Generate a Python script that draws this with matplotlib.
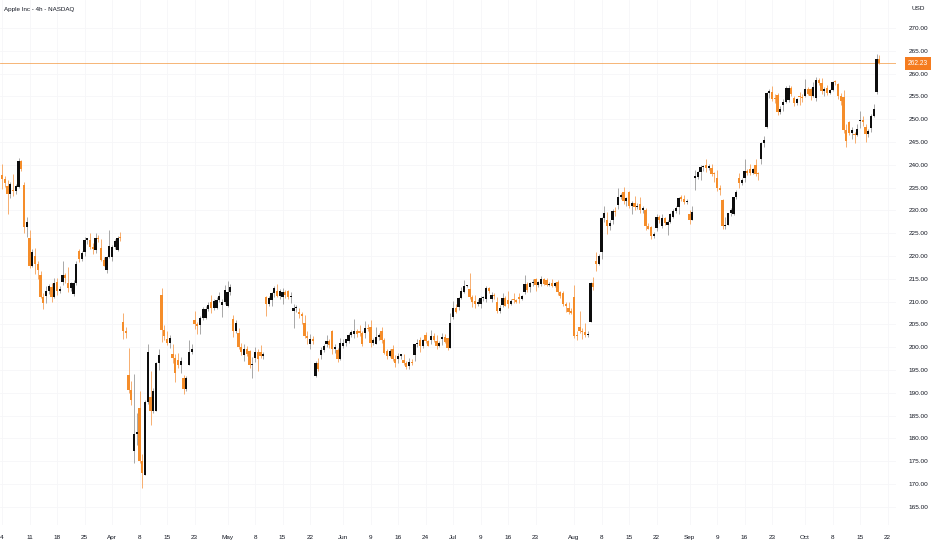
import numpy as np
import pandas as pd
import matplotlib
matplotlib.use("Agg")
import matplotlib.pyplot as plt
import matplotlib.transforms as mtransforms

# trading sessions shown on the chart (weekends and US market holidays left out)
holidays = ["2025-04-18", "2025-05-26", "2025-06-19", "2025-07-04", "2025-09-01"]
days = pd.bdate_range("2025-03-04", "2025-10-20")
days = days[~days.isin(pd.to_datetime(holidays))]

# 4h bars, two per session: (open, high, low, close)
mar_bars = [
    (237.7, 240.1, 234.7, 236.8), (236.8, 237.6, 235.2, 235.9),
    (235.4, 236.6, 229.2, 233.5), (233.5, 236.2, 232.8, 235.7),
    (234.4, 237.9, 233.2, 234.2), (234.2, 235.8, 233.5, 235.3),
    (235.1, 241.4, 234.8, 240.8), (240.8, 241.0, 238.6, 239.1),
    (235.5, 236.2, 225.0, 226.3), (226.3, 228.5, 224.2, 227.5),
    (224.0, 225.8, 217.4, 217.8), (217.8, 221.5, 217.5, 220.8),
    (220.1, 221.8, 216.0, 218.2), (218.2, 219.0, 214.9, 217.0),
    (215.9, 216.8, 210.8, 211.0), (211.0, 211.8, 208.4, 209.7),
    (211.3, 213.5, 209.6, 212.3), (212.3, 213.9, 211.6, 213.5),
    (213.3, 214.0, 210.0, 211.0), (211.0, 215.2, 210.8, 214.0),
    (214.2, 215.2, 211.5, 212.4), (212.4, 213.4, 211.9, 212.7),
    (214.2, 218.8, 213.7, 215.8), (215.8, 216.2, 214.0, 215.2),
    (214.0, 217.5, 212.2, 213.0), (213.0, 214.3, 212.4, 214.1),
    (211.6, 214.8, 211.3, 214.0), (214.0, 218.8, 213.6, 218.3),
    (221.0, 221.5, 218.6, 219.3), (219.3, 221.0, 219.0, 220.7),
    (220.8, 224.1, 220.1, 223.6), (223.6, 224.0, 222.6, 223.8),
    (223.5, 225.0, 221.5, 222.0), (222.0, 222.8, 220.5, 221.5),
    (221.4, 225.0, 220.6, 224.0), (224.0, 224.5, 223.0, 223.8),
    (221.7, 223.8, 218.8, 219.2), (219.2, 219.8, 217.7, 217.9),
    (217.0, 220.0, 216.2, 219.8), (219.8, 225.6, 219.5, 222.1),
]
apr_bars = [
    (219.8, 222.3, 218.8, 222.0), (222.0, 223.7, 221.5, 223.2),
    (221.3, 224.3, 221.0, 224.0), (224.0, 225.2, 223.2, 223.9),
    (205.5, 207.5, 201.7, 203.6), (203.6, 204.5, 202.0, 203.2),
    (193.9, 199.9, 190.0, 190.7), (190.7, 192.5, 187.3, 188.4),
    (177.2, 194.2, 174.6, 181.0), (181.0, 185.5, 178.5, 181.5),
    (186.7, 190.3, 174.5, 175.0), (175.0, 176.5, 169.2, 172.4),
    (172.0, 188.5, 171.9, 188.0), (188.0, 200.6, 187.5, 198.9),
    (189.1, 194.8, 183.0, 186.0), (186.0, 191.0, 185.5, 190.4),
    (186.1, 196.8, 186.1, 196.5), (196.5, 199.5, 195.0, 198.2),
    (211.4, 212.9, 201.2, 203.8), (203.8, 204.8, 201.5, 202.5),
    (201.9, 203.5, 200.5, 201.0), (201.0, 202.6, 199.8, 202.1),
    (198.4, 200.7, 196.5, 197.6), (197.6, 198.5, 192.4, 194.3),
    (197.2, 198.8, 195.5, 196.0), (196.0, 197.8, 194.4, 197.0),
    (193.3, 193.8, 189.8, 190.8), (190.8, 193.6, 190.3, 193.2),
    (196.1, 201.6, 196.0, 199.0), (199.0, 200.8, 198.5, 199.7),
    (206.0, 208.0, 204.0, 205.0), (205.0, 205.6, 202.8, 204.6),
    (204.9, 206.8, 202.9, 206.5), (206.5, 208.8, 206.0, 208.4),
    (206.4, 209.0, 206.2, 208.3), (208.3, 209.8, 207.9, 209.3),
    (210.0, 211.5, 207.5, 208.6), (208.6, 210.6, 208.2, 210.1),
    (208.7, 211.0, 208.4, 210.3), (210.3, 212.2, 209.8, 211.2),
    (209.3, 210.5, 206.7, 209.8), (209.8, 213.6, 209.5, 212.5),
]
may_bars = [
    (209.1, 214.6, 208.9, 212.0), (212.0, 213.8, 211.5, 213.3),
    (206.1, 207.0, 202.2, 203.5), (203.5, 206.0, 203.0, 205.4),
    (203.1, 204.1, 199.5, 200.0), (200.0, 201.0, 198.2, 198.9),
    (198.2, 200.7, 197.0, 199.6), (199.6, 200.2, 198.0, 198.5),
    (199.2, 199.4, 195.5, 196.0), (196.0, 197.8, 193.3, 196.3),
    (197.7, 200.1, 196.8, 199.0), (199.0, 199.5, 194.7, 197.5),
    (199.0, 200.5, 197.6, 198.0), (198.0, 199.0, 197.5, 198.5),
    (211.0, 211.3, 206.8, 209.5), (209.5, 211.2, 209.0, 210.8),
    (210.4, 212.0, 209.0, 211.8), (211.8, 213.4, 211.0, 212.9),
    (212.4, 213.9, 211.0, 211.3), (211.3, 212.8, 210.6, 212.3),
    (211.0, 213.0, 209.5, 212.0), (212.0, 212.5, 210.8, 211.5),
    (212.4, 212.6, 210.5, 211.0), (211.0, 212.0, 209.7, 211.3),
    (207.9, 209.5, 204.3, 208.6), (208.6, 209.2, 207.8, 208.8),
    (207.7, 208.5, 206.5, 207.2), (207.2, 207.8, 205.0, 206.9),
    (205.2, 207.0, 202.0, 202.5), (202.5, 203.5, 200.7, 202.1),
    (200.7, 202.8, 199.7, 201.8), (201.8, 202.5, 200.8, 201.4),
    (193.7, 197.0, 193.5, 196.6), (196.6, 197.7, 194.8, 195.3),
    (198.3, 200.0, 197.4, 199.4), (199.4, 200.7, 199.0, 200.2),
    (200.6, 202.7, 200.1, 201.4), (201.4, 201.8, 199.9, 200.4),
    (203.6, 203.8, 198.5, 199.5), (199.5, 200.8, 198.8, 200.0),
    (199.4, 199.8, 196.8, 197.5), (197.5, 202.0, 197.2, 200.9),
]
jun_bars = [
    (200.3, 201.9, 199.8, 201.0), (201.0, 201.8, 200.3, 201.7),
    (201.4, 203.0, 201.0, 202.6), (202.6, 203.8, 202.2, 203.3),
    (202.9, 206.2, 202.1, 203.5), (203.5, 204.0, 202.3, 202.8),
    (203.5, 204.8, 202.5, 203.0), (203.0, 203.6, 200.2, 200.6),
    (203.0, 205.7, 202.1, 204.3), (204.3, 205.0, 203.5, 203.9),
    (204.4, 206.0, 200.0, 201.0), (201.0, 202.0, 200.5, 201.5),
    (200.6, 204.4, 200.6, 202.2), (202.2, 203.0, 201.5, 202.7),
    (203.5, 204.5, 201.0, 201.5), (201.5, 202.0, 198.4, 198.8),
    (199.1, 199.7, 197.4, 198.0), (198.0, 199.5, 197.8, 199.2),
    (199.7, 200.4, 197.0, 197.5), (197.5, 198.2, 195.7, 196.5),
    (197.3, 198.7, 196.6, 198.0), (198.0, 198.6, 197.5, 198.4),
    (197.2, 198.4, 196.0, 196.5), (196.5, 197.0, 195.2, 195.6),
    (195.9, 197.6, 195.2, 196.8), (196.8, 197.3, 196.0, 196.6),
    (198.2, 200.8, 196.9, 200.6), (200.6, 201.7, 200.0, 201.0),
    (201.6, 202.3, 199.0, 200.2), (200.2, 201.8, 199.8, 201.5),
    (202.6, 203.4, 201.0, 201.3), (201.3, 201.6, 200.2, 200.3),
    (201.5, 203.7, 200.6, 202.5), (202.5, 203.0, 201.2, 201.6),
    (201.4, 202.6, 199.5, 200.3), (200.3, 201.3, 200.0, 201.0),
    (201.9, 203.2, 200.5, 202.3), (202.3, 202.8, 200.9, 201.1),
    (202.0, 202.1, 199.3, 199.9), (199.9, 207.4, 199.8, 205.2),
]
jul_bars = [
    (206.7, 210.2, 206.1, 208.6), (208.6, 209.5, 207.5, 207.8),
    (208.9, 211.0, 208.1, 210.8), (210.8, 213.3, 210.5, 212.4),
    (212.2, 214.7, 211.8, 213.4), (213.4, 213.7, 213.2, 213.6),
    (212.7, 216.2, 210.5, 211.0), (211.0, 211.5, 208.8, 210.0),
    (210.1, 211.4, 208.5, 209.5), (209.5, 210.5, 209.0, 210.0),
    (209.5, 211.3, 208.6, 210.8), (210.8, 211.2, 210.2, 211.1),
    (210.5, 213.5, 210.0, 212.9), (212.9, 213.2, 211.8, 212.4),
    (210.6, 212.1, 209.9, 211.4), (211.4, 211.8, 210.6, 211.2),
    (209.9, 210.9, 207.5, 208.0), (208.0, 209.2, 207.6, 208.6),
    (209.2, 211.9, 208.9, 210.8), (210.8, 211.2, 209.0, 209.1),
    (210.3, 212.4, 208.6, 209.5), (209.5, 210.5, 209.2, 210.2),
    (210.6, 211.8, 209.6, 210.3), (210.3, 210.6, 209.7, 210.0),
    (210.9, 211.8, 209.7, 210.5), (210.5, 211.5, 210.3, 211.2),
    (212.1, 215.8, 211.6, 213.8), (213.8, 214.3, 212.2, 212.5),
    (213.1, 214.2, 212.2, 214.0), (214.0, 215.0, 213.5, 214.4),
    (215.0, 215.2, 212.4, 213.6), (213.6, 214.5, 213.3, 214.2),
    (213.9, 215.7, 213.5, 214.9), (214.9, 215.2, 213.6, 213.8),
    (214.7, 215.2, 213.4, 213.7), (213.7, 214.3, 213.5, 213.9),
    (214.0, 214.9, 213.1, 213.5), (213.5, 214.3, 213.3, 214.1),
    (214.2, 214.8, 211.5, 212.0), (212.0, 212.3, 210.8, 211.3),
    (211.9, 212.4, 209.0, 209.5), (209.5, 209.8, 207.7, 209.1),
    (208.5, 209.8, 207.2, 207.8), (207.8, 208.5, 207.3, 207.6),
]
aug_bars = [
    (210.9, 213.6, 202.0, 202.5), (202.5, 203.5, 201.5, 202.4),
    (204.5, 207.9, 203.0, 203.6), (203.6, 204.2, 201.7, 203.4),
    (203.4, 205.3, 202.2, 202.6), (202.6, 203.5, 202.3, 202.9),
    (205.6, 214.2, 205.6, 214.0), (214.0, 215.4, 212.5, 213.3),
    (218.9, 220.9, 216.6, 218.2), (218.2, 220.5, 218.0, 220.0),
    (220.8, 228.5, 219.3, 228.3), (228.3, 231.0, 227.5, 229.4),
    (227.9, 229.6, 224.8, 226.5), (226.5, 227.8, 225.8, 227.2),
    (228.0, 230.2, 227.1, 229.8), (229.8, 230.8, 228.8, 229.7),
    (231.1, 234.9, 230.4, 233.0), (233.0, 233.8, 232.5, 233.3),
    (234.1, 235.1, 231.5, 232.0), (232.0, 233.0, 230.9, 232.8),
    (234.0, 234.3, 230.5, 231.0), (231.0, 232.0, 229.3, 231.6),
    (231.7, 233.1, 230.1, 230.8), (230.8, 231.6, 230.2, 230.9),
    (231.3, 232.9, 229.4, 230.0), (230.0, 231.0, 229.5, 230.6),
    (230.0, 230.5, 225.8, 226.5), (226.5, 227.2, 225.9, 226.0),
    (226.3, 226.5, 223.8, 224.4), (224.4, 225.3, 224.0, 224.9),
    (226.2, 229.1, 225.4, 228.6), (228.6, 228.9, 227.3, 227.8),
    (226.5, 229.3, 226.2, 228.3), (228.3, 228.6, 226.8, 227.2),
    (226.9, 228.0, 224.7, 227.5), (227.5, 229.5, 227.2, 229.3),
    (228.6, 230.2, 228.3, 229.9), (229.9, 230.9, 229.5, 230.5),
    (230.8, 232.9, 229.3, 232.7), (232.7, 233.4, 232.0, 232.6),
    (232.5, 233.4, 231.4, 231.8), (231.8, 232.5, 231.5, 232.1),
]
sep_bars = [
    (229.3, 230.0, 227.0, 228.0), (228.0, 230.9, 227.8, 229.7),
    (237.2, 238.9, 234.4, 237.4), (237.4, 238.6, 236.9, 238.5),
    (238.5, 239.9, 236.7, 239.5), (239.5, 239.9, 238.7, 239.8),
    (240.0, 241.3, 238.5, 239.3), (239.3, 240.2, 238.8, 239.7),
    (239.3, 240.2, 237.5, 238.0), (238.0, 238.5, 236.3, 237.9),
    (237.0, 238.8, 234.2, 235.0), (235.0, 235.5, 233.4, 234.4),
    (232.2, 232.4, 226.0, 226.5), (226.5, 228.5, 226.0, 226.8),
    (226.9, 229.5, 226.7, 229.4), (229.4, 230.5, 228.8, 230.0),
    (229.2, 233.0, 229.0, 232.9), (232.9, 234.5, 232.5, 234.1),
    (237.0, 238.2, 235.0, 236.0), (236.0, 237.0, 235.5, 236.7),
    (237.2, 241.2, 236.3, 238.7), (238.7, 239.0, 237.8, 238.2),
    (239.0, 240.1, 237.7, 238.3), (238.3, 239.2, 238.0, 239.0),
    (240.0, 241.2, 237.5, 238.0), (238.0, 238.5, 236.7, 237.9),
    (241.2, 245.0, 240.2, 244.8), (244.8, 246.3, 244.0, 245.5),
    (248.3, 256.0, 248.1, 255.8), (255.8, 256.6, 254.6, 256.1),
    (255.9, 257.3, 254.0, 254.5), (254.5, 255.5, 253.6, 254.4),
    (255.2, 255.7, 251.0, 251.6), (251.6, 252.8, 251.2, 252.3),
    (253.2, 254.5, 251.7, 253.8), (253.8, 257.2, 253.5, 256.9),
    (254.1, 257.6, 253.8, 256.8), (256.8, 257.2, 255.0, 255.5),
    (254.6, 255.0, 253.0, 253.5), (253.5, 254.7, 253.2, 254.4),
    (254.9, 255.9, 253.1, 254.8), (254.8, 255.5, 253.8, 254.6),
]
oct_bars = [
    (255.0, 258.8, 254.9, 256.6), (256.6, 257.0, 255.2, 255.5),
    (256.6, 256.9, 254.2, 255.0), (255.0, 258.2, 254.8, 257.1),
    (254.7, 259.2, 254.0, 258.5), (258.5, 259.0, 257.5, 258.0),
    (258.0, 259.1, 255.5, 256.2), (256.2, 257.0, 255.1, 256.7),
    (256.8, 257.4, 255.4, 255.8), (255.8, 256.7, 255.5, 256.5),
    (256.5, 258.3, 256.1, 258.2), (258.2, 258.5, 257.6, 258.1),
    (257.8, 258.0, 254.5, 255.0), (255.0, 255.8, 253.1, 254.0),
    (254.9, 256.4, 247.0, 247.6), (247.6, 249.0, 244.0, 245.3),
    (249.4, 249.7, 246.5, 247.0), (247.0, 248.3, 245.6, 247.7),
    (246.6, 247.2, 244.7, 246.5), (246.5, 248.9, 246.3, 247.8),
    (249.5, 251.8, 248.0, 249.9), (249.9, 250.6, 248.4, 249.3),
    (248.3, 249.0, 245.1, 246.8), (246.8, 247.8, 246.2, 247.5),
    (248.0, 251.2, 247.3, 250.8), (250.8, 253.4, 250.5, 252.3),
    (255.9, 264.4, 255.6, 263.2), (263.2, 264.0, 262.0, 262.23),
]

tick_dates = ["2025-03-04", "2025-03-11", "2025-03-18", "2025-03-25", "2025-04-01",
              "2025-04-08", "2025-04-15", "2025-04-23", "2025-05-01", "2025-05-08",
              "2025-05-15", "2025-05-22", "2025-06-02", "2025-06-09", "2025-06-16",
              "2025-06-24", "2025-07-01", "2025-07-09", "2025-07-16", "2025-07-23",
              "2025-08-01", "2025-08-08", "2025-08-15", "2025-08-22", "2025-09-02",
              "2025-09-09", "2025-09-16", "2025-09-23", "2025-10-01", "2025-10-08",
              "2025-10-15", "2025-10-22"]
tick_labels = ["4", "11", "18", "25", "Apr", "8", "15", "23", "May", "8", "15", "22",
               "Jun", "9", "16", "24", "Jul", "9", "16", "23", "Aug", "8", "15", "22",
               "Sep", "9", "16", "23", "Oct", "8", "15", "22"]
price_ticks = np.arange(165, 271, 5)

UP = "#0d0d0d"
UP_WICK = "#9a9a9a"
DOWN = "#f58d2a"
DOWN_WICK = "#f6a158"
TEXT = "#131722"

bars = np.array(mar_bars + apr_bars + may_bars + jun_bars +
                jul_bars + aug_bars + sep_bars + oct_bars)
o, h, l, c = bars.T
x = np.arange(len(bars)) * 0.5          # two bars per session

# tick positions in session units (the 22nd is one session past the data)
tick_pos = []
for d in tick_dates:
    d = pd.Timestamp(d)
    if d in days:
        tick_pos.append(days.get_loc(d))
    else:
        tick_pos.append(len(days) + np.busday_count(days[-1].date(), d.date()) - 1)

plt.rcParams["font.family"] = ["Liberation Sans", "DejaVu Sans"]
fig = plt.figure(figsize=(9.32, 5.5), dpi=100)
ax = fig.add_axes([0, 25 / 550, 896 / 932, 525 / 550])
ax.set_xlim(-2 / 5.5, 894 / 5.5)
ax.set_ylim(161.0, 276.14)
ax.set_axisbelow(True)

up = c >= o
dn = ~up
ax.vlines(x[up], l[up], h[up], color=UP_WICK, lw=0.6, zorder=2)
ax.vlines(x[dn], l[dn], h[dn], color=DOWN_WICK, lw=0.6, zorder=2)
body = np.maximum(np.abs(c - o), 0.25)
ax.bar(x[up], body[up], bottom=np.minimum(o, c)[up], width=0.42,
       color=UP, lw=0, zorder=3)
ax.bar(x[dn], body[dn], bottom=np.minimum(o, c)[dn], width=0.42,
       color=DOWN, lw=0, zorder=3)

last = c[-1]
ax.axhline(last, color="#f39a45", lw=0.6, alpha=0.85, zorder=1)

for s in ax.spines.values():
    s.set_visible(False)
ax.yaxis.tick_right()
ax.set_yticks(price_ticks)
ax.set_yticklabels([f"{p:.2f}" for p in price_ticks])
ax.set_xticks(tick_pos)
ax.set_xticklabels(tick_labels)
ax.tick_params(axis="y", length=0, pad=9, labelsize=4.6, labelcolor=TEXT)
ax.tick_params(axis="x", length=0, pad=7.5, labelsize=4.6, labelcolor=TEXT)
ax.grid(True, color="#f6f6f8", lw=0.6)

trans = mtransforms.blended_transform_factory(ax.transAxes, ax.transData)
ax.text(1 + 12 / 896, last, f"{last:.2f}", transform=trans, fontsize=4.8,
        color="white", ha="left", va="center", clip_on=False, zorder=5,
        bbox=dict(boxstyle="square,pad=0.45", fc="#f57c1f", ec="none"))

fig.text(912 / 932, 1 - 9 / 550, "USD", fontsize=4.6, color=TEXT, va="center")
ax.text(4 / 896, 1 - 10 / 525, "Apple Inc - 4h - NASDAQ", transform=ax.transAxes,
        fontsize=4.5, color=TEXT, va="center", ha="left")

fig.savefig("out.png", dpi=100, facecolor="white")
